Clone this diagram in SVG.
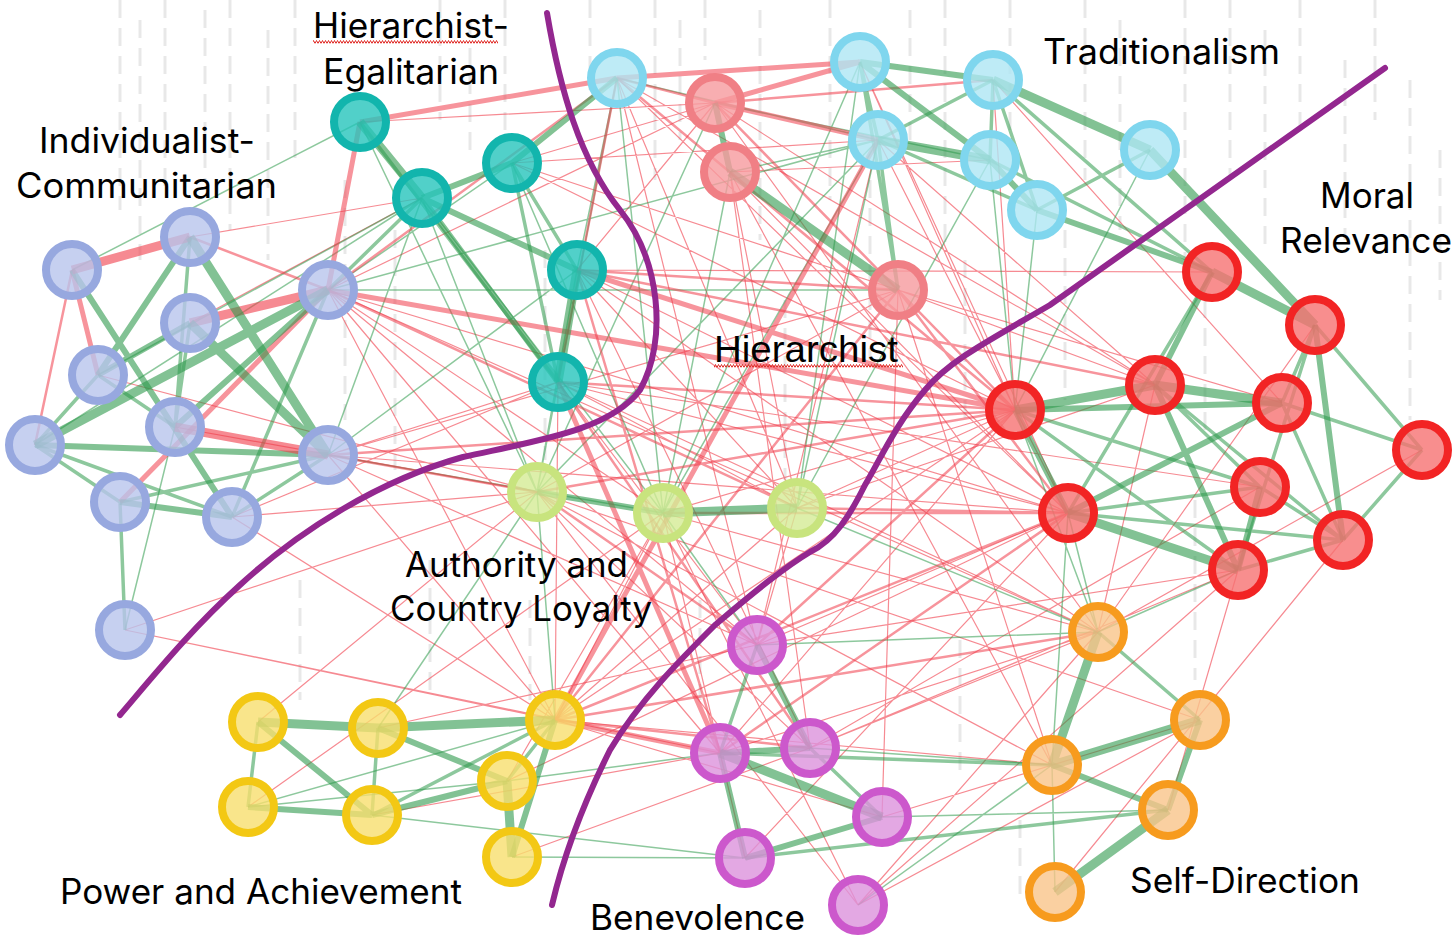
<svg xmlns="http://www.w3.org/2000/svg" width="1456" height="946" viewBox="0 0 1456 946">
<style>
.bg{fill:none;stroke:#b3b3b3;stroke-width:3;stroke-dasharray:18 10;opacity:.3}
.G1,.G2,.G3,.G4{fill:none;stroke:#2f9a4c;stroke-opacity:.6}
.G1{stroke-width:9}.G2{stroke-width:6}.G3{stroke-width:3.5;stroke-opacity:.55}.G4{stroke-width:1.5;stroke-opacity:.55}
.R1,.R2,.R3,.R4{fill:none;stroke:#f03c4a}
.R1{stroke-width:9;stroke-opacity:.6}.R2{stroke-width:5;stroke-opacity:.55}.R3{stroke-width:2.5;stroke-opacity:.55}.R4{stroke-width:1.2;stroke-opacity:.6}
circle{stroke-width:8;fill-opacity:.8;r:26}
.nb circle{fill:#b8c4ec;stroke:#97a8df}
.nt circle{fill:#26c4bc;stroke:#12b5ad}
.nc circle{fill:#aee6f4;stroke:#7fd6ee}
.np circle{fill:#f69a9e;stroke:#f07f85}
.nl circle{fill:#d5eb95;stroke:#c8e47e}
.nr circle{fill:#f67272;stroke:#f22424}
.no circle{fill:#f9c48a;stroke:#f79b1e}
.ny circle{fill:#f7df6e;stroke:#f3c814}
.nm circle{fill:#dc92dc;stroke:#cc58cc}
.lbl{font-family:Inter,"Liberation Sans",sans-serif;font-size:35px;fill:#000}
.arial{font-family:"Liberation Sans",Arial,sans-serif;font-size:37px;fill:#000}
.div{fill:none;stroke:#93278f;stroke-width:6;stroke-linecap:round}
</style>
<defs>
<pattern id="sq" width="3" height="4" patternUnits="userSpaceOnUse"><path d="M0,3.5 L1.5,0.5 L3,3.5" fill="none" stroke="#e0302c" stroke-width="1"/></pattern>
</defs>
<rect width="1456" height="946" fill="#ffffff"/>
<g id="background">
<path class="bg" d="M120,0V210 M140,20V260 M165,0V190 M205,10V180 M230,0V230 M268,30V260 M295,0V160 M345,180V420 M395,230V470 M440,0V120 M470,20V160 M505,0V140 M545,250V460 M590,0V90 M655,0V180 M680,20V140 M705,0V60 M760,10V240 M785,300V480 M830,0V200 M870,180V360 M910,10V150 M945,0V250 M965,260V420 M1010,0V140 M1065,230V400 M1085,0V180 M1120,20V230 M1185,0V260 M1205,300V440 M1230,0V180 M1265,30V250 M1300,0V140 M1345,60V240 M1375,0V120 M1410,80V420 M1440,150V300 M300,580V700 M430,560V700 M530,600V700 M700,600V700 M960,640V780 M1195,500V680 M1020,820V900"/>
</g>
<g id="connectors">
<path class="R4" d="M328,290L715,103 M328,290L663,513 M328,290L757,645 M328,290L1068,513 M328,290L1098,632 M328,290L720,753 M328,290L555,720 M328,455L1068,513 M328,455L898,290 M328,455L558,382 M328,455L757,645 M328,455L555,720 M232,517L537,492 M232,517L558,382 M232,517L555,720 M125,630L555,720 M125,630L537,492 M125,630L720,753 M577,270L797,508 M577,270L1068,513 M577,270L1098,632 M577,270L810,748 M577,270L1212,272 M558,382L1068,513 M558,382L797,508 M558,382L1098,632 M558,382L555,720 M558,382L1260,487 M558,382L757,645 M617,78L1068,513 M617,78L757,645 M617,78L797,508 M715,103L1155,385 M715,103L1098,632 M715,103L577,270 M730,172L1068,513 M730,172L810,748 M730,172L990,160 M730,172L797,508 M730,172L1052,765 M898,290L1155,385 M898,290L882,817 M898,290L1052,765 M898,290L537,492 M898,290L1282,403 M537,492L810,748 M537,492L1052,765 M537,492L858,905 M537,492L1200,720 M663,513L555,720 M663,513L745,858 M663,513L858,905 M663,513L1098,632 M663,513L1015,410 M797,508L1015,410 M797,508L757,645 M797,508L555,720 M797,508L1155,385 M555,720L1015,410 M555,720L882,817 M555,720L1052,765 M507,781L1068,513 M757,645L1068,513 M757,645L1238,570 M720,753L1015,410 M720,753L1098,632 M810,748L1098,632 M810,748L1238,570 M810,748L1260,487 M858,905L1098,632 M858,905L1238,570 M858,905L1200,720 M882,817L1200,720 M1098,632L1155,385 M1168,810L1238,570 M1055,892L1343,540 M1015,410L993,80 M1015,410L860,62 M1155,385L878,140 M860,62L1068,513 M993,80L1282,403 M878,140L1068,513 M617,78L1155,385 M360,122L715,103 M512,163L715,103 M512,163L1015,410 M512,163L898,290 M512,163L878,140 M507,781L663,513 M258,722L537,492 M248,807L663,513 M378,728L757,645 M512,857L810,748 M372,815L720,753 M1422,450L1098,632 M1315,325L1098,632 M757,645L878,140 M745,858L1068,513 M190,323L422,198 M190,237L422,198 M98,375L537,492 M175,427L537,492"/>
<path class="G4" d="M422,198L537,492 M422,198L663,513 M360,122L537,492 M617,78L663,513 M860,62L663,513 M878,140L537,492 M878,140L797,508 M617,78L577,270 M558,382L537,492 M663,513L757,645 M537,492L555,720 M537,492L378,728 M797,508L990,160 M990,160L1015,410 M1037,210L1015,410 M1150,150L1015,410 M1015,410L1098,632 M1068,513L1098,632 M1068,513L1052,765 M1098,632L1238,570 M372,815L745,858 M512,857L745,858 M507,781L720,753 M248,807L555,720 M328,290L898,290 M328,290L878,140 M328,455L663,513 M328,455L577,270 M360,122L72,270 M422,198L98,375 M422,198L35,445 M512,163L663,513 M730,172L663,513 M715,103L537,492 M617,78L537,492 M878,140L663,513 M860,62L797,508 M858,905L1052,765 M125,630L175,427 M328,455L422,198 M328,290L512,163 M577,270L537,492 M617,78L878,140 M730,172L878,140 M715,103L990,160 M797,508L1098,632 M757,645L1098,632 M248,807L507,781 M1055,892L1052,765 M882,817L1168,810 M1052,765L810,748"/>
<path class="R3" d="M72,270L35,445 M617,78L715,103 M715,103L993,80 M617,78L558,382 M617,78L1015,410 M577,270L898,290 M558,382L1015,410 M577,270L1155,385 M328,455L1015,410 M537,492L1015,410 M663,513L1068,513 M555,720L1068,513 M555,720L1098,632 M797,508L1068,513 M757,645L1015,410 M720,753L1068,513 M328,290L797,508 M558,382L810,748 M730,172L1015,410 M898,290L1068,513 M328,455L537,492 M537,492L757,645 M555,720L898,290 M617,78L328,290 M577,270L720,753 M715,103L1015,410 M190,237L328,290 M555,720L810,748"/>
<path class="G3" d="M35,445L98,375 M35,445L232,517 M120,502L328,455 M232,517L328,455 M190,237L175,427 M190,323L175,427 M328,290L232,517 M35,445L120,502 M120,502L125,630 M98,375L175,427 M512,163L577,270 M360,122L558,382 M512,163L558,382 M422,198L328,290 M860,62L878,140 M993,80L878,140 M993,80L990,160 M993,80L1037,210 M878,140L1037,210 M993,80L1212,272 M1150,150L1037,210 M990,160L1212,272 M860,62L898,290 M878,140L898,290 M1315,325L1282,403 M1315,325L1422,450 M1068,513L1260,487 M1068,513L1343,540 M1155,385L1260,487 M1282,403L1343,540 M1260,487L1343,540 M1343,540L1238,570 M1343,540L1422,450 M1282,403L1422,450 M1015,410L1260,487 M1212,272L1068,513 M1015,410L1238,570 M1315,325L1238,570 M1155,385L1343,540 M1098,632L1200,720 M258,722L248,807 M372,815L555,720 M555,720L507,781 M378,728L372,815 M720,753L1052,765 M745,858L1168,810 M757,645L720,753 M810,748L882,817"/>
<path class="R2" d="M72,270L98,375 M360,122L328,290 M120,502L328,290 M360,122L617,78 M617,78L860,62 M715,103L860,62 M555,720L720,753 M577,270L1015,410 M558,382L720,753 M555,720L878,140 M328,290L1015,410 M715,103L878,140"/>
<path class="G2" d="M190,237L98,375 M72,270L232,517 M98,375L190,323 M35,445L328,455 M328,290L175,427 M120,502L232,517 M422,198L512,163 M422,198L577,270 M422,198L558,382 M512,163L617,78 M860,62L990,160 M860,62L993,80 M990,160L1037,210 M1037,210L1212,272 M715,103L730,172 M537,492L663,513 M1015,410L1068,513 M1068,513L1282,403 M1155,385L1238,570 M1260,487L1238,570 M1015,410L1282,403 M1212,272L1155,385 M1315,325L1343,540 M1052,765L1168,810 M1200,720L1168,810 M258,722L372,815 M248,807L372,815 M378,728L507,781 M372,815L507,781 M555,720L512,857 M757,645L810,748 M745,858L882,817 M720,753L810,748 M720,753L745,858"/>
<path class="R1" d="M72,270L190,237 M190,323L328,290 M175,427L328,455"/>
<path class="G1" d="M190,237L328,455 M190,323L328,455 M35,445L328,290 M360,122L422,198 M577,270L558,382 M878,140L990,160 M993,80L1150,150 M1150,150L1315,325 M730,172L898,290 M663,513L797,508 M1015,410L1155,385 M1155,385L1282,403 M1212,272L1315,325 M1068,513L1238,570 M1098,632L1052,765 M1052,765L1200,720 M1168,810L1055,892 M378,728L555,720 M258,722L378,728 M507,781L512,857 M720,753L882,817"/>
</g>
<g id="nodes">
<g class="nb"><g id="b1"><circle cx="72" cy="270"/></g><g id="b2"><circle cx="190" cy="237"/></g><g id="b3"><circle cx="190" cy="323"/></g><g id="b4"><circle cx="98" cy="375"/></g><g id="b5"><circle cx="328" cy="290"/></g><g id="b6"><circle cx="175" cy="427"/></g><g id="b7"><circle cx="35" cy="445"/></g><g id="b8"><circle cx="328" cy="455"/></g><g id="b9"><circle cx="120" cy="502"/></g><g id="b10"><circle cx="232" cy="517"/></g><g id="b11"><circle cx="125" cy="630"/></g></g>
<g class="nt"><g id="t1"><circle cx="360" cy="122"/></g><g id="t2"><circle cx="512" cy="163"/></g><g id="t3"><circle cx="422" cy="198"/></g><g id="t4"><circle cx="577" cy="270"/></g><g id="t5"><circle cx="558" cy="382"/></g></g>
<g class="nc"><g id="c1"><circle cx="617" cy="78"/></g><g id="c2"><circle cx="860" cy="62"/></g><g id="c3"><circle cx="993" cy="80"/></g><g id="c4"><circle cx="878" cy="140"/></g><g id="c5"><circle cx="990" cy="160"/></g><g id="c6"><circle cx="1150" cy="150"/></g><g id="c7"><circle cx="1037" cy="210"/></g></g>
<g class="np"><g id="p1"><circle cx="715" cy="103"/></g><g id="p2"><circle cx="730" cy="172"/></g><g id="p3"><circle cx="898" cy="290"/></g></g>
<g class="nl"><g id="g1"><circle cx="537" cy="492"/></g><g id="g2"><circle cx="663" cy="513"/></g><g id="g3"><circle cx="797" cy="508"/></g></g>
<g class="nr"><g id="r1"><circle cx="1212" cy="272"/></g><g id="r2"><circle cx="1315" cy="325"/></g><g id="r3"><circle cx="1015" cy="410"/></g><g id="r4"><circle cx="1155" cy="385"/></g><g id="r5"><circle cx="1282" cy="403"/></g><g id="r6"><circle cx="1422" cy="450"/></g><g id="r7"><circle cx="1260" cy="487"/></g><g id="r8"><circle cx="1068" cy="513"/></g><g id="r9"><circle cx="1343" cy="540"/></g><g id="r10"><circle cx="1238" cy="570"/></g></g>
<g class="no"><g id="o1"><circle cx="1098" cy="632"/></g><g id="o2"><circle cx="1200" cy="720"/></g><g id="o3"><circle cx="1052" cy="765"/></g><g id="o4"><circle cx="1168" cy="810"/></g><g id="o5"><circle cx="1055" cy="892"/></g></g>
<g class="ny"><g id="y1"><circle cx="258" cy="722"/></g><g id="y2"><circle cx="378" cy="728"/></g><g id="y3"><circle cx="555" cy="720"/></g><g id="y4"><circle cx="507" cy="781"/></g><g id="y5"><circle cx="248" cy="807"/></g><g id="y6"><circle cx="372" cy="815"/></g><g id="y7"><circle cx="512" cy="857"/></g></g>
<g class="nm"><g id="m1"><circle cx="757" cy="645"/></g><g id="m2"><circle cx="720" cy="753"/></g><g id="m3"><circle cx="810" cy="748"/></g><g id="m4"><circle cx="882" cy="817"/></g><g id="m5"><circle cx="745" cy="858"/></g><g id="m6"><circle cx="858" cy="905"/></g></g>
</g>
<g id="dividers">
<path class="div" d="M547,13 C560,90 580,160 620,210 C660,260 668,340 640,390 C610,430 540,440 463,457 C380,480 300,530 240,585 C190,630 150,680 120,715"/>
<path class="div" d="M1385,68 L1050,305 C990,340 950,360 925,390 C895,425 880,460 865,485 C850,515 835,540 810,552 C780,570 745,600 715,625 C680,660 640,700 610,750 C585,800 565,850 552,905"/>
</g>
<g id="labels">
<text class="lbl" x="313" y="38" textLength="196" lengthAdjust="spacingAndGlyphs">Hierarchist-</text>
<rect x="313" y="40" width="185" height="4" fill="url(#sq)"/>
<text class="lbl" x="323" y="84" textLength="176" lengthAdjust="spacingAndGlyphs">Egalitarian</text>
<text class="lbl" x="39" y="153" textLength="216" lengthAdjust="spacingAndGlyphs">Individualist-</text>
<text class="lbl" x="16" y="198" textLength="261" lengthAdjust="spacingAndGlyphs">Communitarian</text>
<text class="lbl" x="1043" y="64" textLength="237" lengthAdjust="spacingAndGlyphs">Traditionalism</text>
<text class="lbl" x="1320" y="208" textLength="94" lengthAdjust="spacingAndGlyphs">Moral</text>
<text class="lbl" x="1280" y="253" textLength="172" lengthAdjust="spacingAndGlyphs">Relevance</text>
<text class="arial" x="714" y="362" textLength="184" lengthAdjust="spacingAndGlyphs">Hierarchist</text>
<rect x="714" y="364" width="189" height="4" fill="url(#sq)"/>
<text class="lbl" x="405" y="577" textLength="223" lengthAdjust="spacingAndGlyphs">Authority and</text>
<text class="lbl" x="390" y="621" textLength="262" lengthAdjust="spacingAndGlyphs">Country Loyalty</text>
<text class="lbl" x="60" y="904" textLength="402" lengthAdjust="spacingAndGlyphs">Power and Achievement</text>
<text class="lbl" x="590" y="930" textLength="215" lengthAdjust="spacingAndGlyphs">Benevolence</text>
<text class="lbl" x="1130" y="893" textLength="230" lengthAdjust="spacingAndGlyphs">Self-Direction</text>
</g>
</svg>
